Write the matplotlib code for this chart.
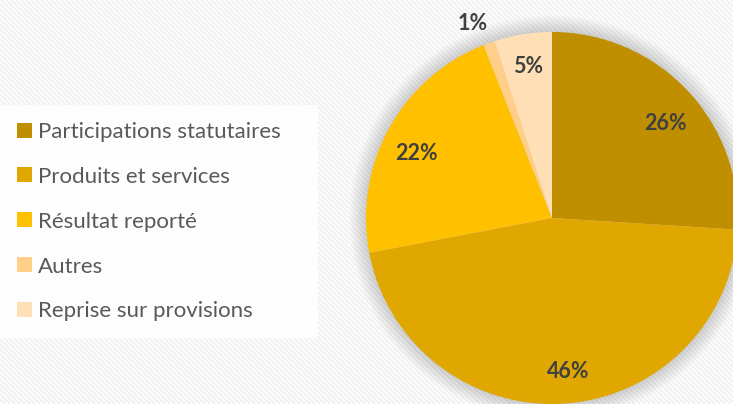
import matplotlib
matplotlib.use("Agg")
import matplotlib.pyplot as plt
import numpy as np
from matplotlib.collections import LineCollection
from matplotlib.patches import Circle

categories = ["Participations statutaires", "Produits et services", "Résultat reporté",
              "Autres", "Reprise sur provisions"]
values = [26, 46, 22, 1, 5]
colors = ["#BF8F00", "#DFA700", "#FFC000", "#FFCF88", "#FFDFB6"]

# label placement (fraction of radius, angle tweak in degrees)
label_dist = [0.80, 0.82, 0.81, 1.14, 0.83]
label_dang = [-2.8, 2.4, 2.7, 2.3, -0.1]

W, H = 733, 404
fig = plt.figure(figsize=(W / 100, H / 100), dpi=100)
fig.patch.set_facecolor("white")
ax = fig.add_axes([0, 0, 1, 1])
ax.set_xlim(0, W)
ax.set_ylim(0, H)
ax.set_aspect("equal")
ax.axis("off")

# striped background
segs = []
for c in range(-H, W + H, 5):
    segs.append([(c, H), (c + H, 0)])
ax.add_collection(LineCollection(segs, colors="#F1F1F1", linewidths=1.5, zorder=0))

cx, cy, R = 552, H - 218, 186

# soft shadow
for i in range(14):
    ax.add_patch(Circle((cx, cy), R + 1 + i * 1.2, facecolor="black", alpha=0.013,
                        edgecolor="none", zorder=1))

wedges, texts, autotexts = ax.pie(values, colors=colors, startangle=90, counterclock=False,
                                  center=(cx, cy), radius=R, autopct="%1.0f%%",
                                  pctdistance=0.81, frame=True,
                                  wedgeprops=dict(linewidth=0, zorder=2),
                                  textprops=dict(family="Lato", fontweight="bold",
                                                 fontsize=15.5, color="#404040"))
for w in wedges:
    w.set_zorder(2)
for w, t, d, da in zip(wedges, autotexts, label_dist, label_dang):
    mid = np.deg2rad((w.theta1 + w.theta2) / 2 + da)
    t.set_position((cx + d * R * np.cos(mid), cy + d * R * np.sin(mid) - 1.5))
    t.set_zorder(5)

ax.set_xlim(0, W)
ax.set_ylim(0, H)
ax.axis("off")

leg = ax.legend(wedges, categories, loc="upper left",
                bbox_to_anchor=(0 / W, 1 - 330 / H, 318 / W, 225 / H),
                mode="expand",
                frameon=True, facecolor="white", edgecolor="none", framealpha=0.85,
                fancybox=False,
                prop=dict(family="Lato", size=16), labelcolor="#595959",
                handlelength=0.66, handleheight=0.66, handletextpad=0.28,
                labelspacing=1.12, borderpad=0.76, borderaxespad=0)
leg.set_zorder(6)

fig.savefig("out.png", dpi=100, facecolor="white")
